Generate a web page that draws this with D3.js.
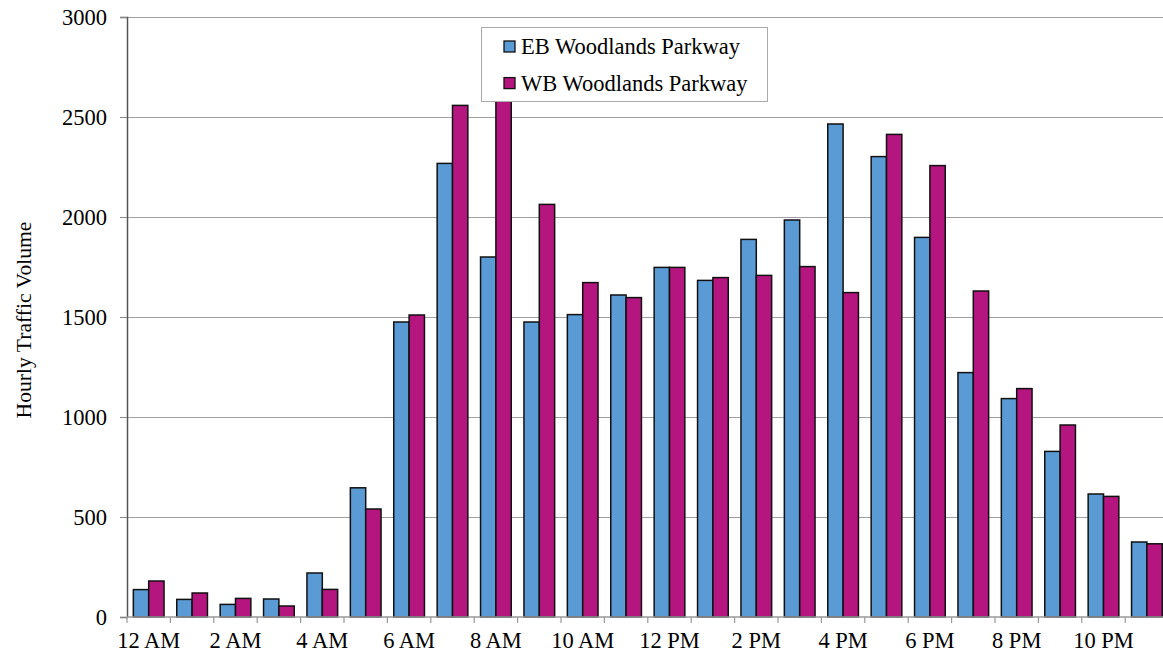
<!DOCTYPE html>
<html>
<head>
<meta charset="utf-8">
<script src="https://cdn.jsdelivr.net/npm/d3@7"></script>
<style>
  html, body { margin: 0; padding: 0; background: #fff; }
  svg { display: block; font-family: "Liberation Serif", "Times New Roman", serif; }
</style>
</head>
<body>
<svg id="chart"></svg>
<script>
const hours = ['12 AM', '1 AM', '2 AM', '3 AM', '4 AM', '5 AM', '6 AM', '7 AM', '8 AM', '9 AM', '10 AM', '11 AM',
               '12 PM', '1 PM', '2 PM', '3 PM', '4 PM', '5 PM', '6 PM', '7 PM', '8 PM', '9 PM', '10 PM', '11 PM'];
const seriesNames = ['EB Woodlands Parkway', 'WB Woodlands Parkway'];
const ebVolume = [137, 88, 63, 90, 220, 646, 1475, 2268, 1800, 1475, 1512, 1610,
                  1748, 1683, 1888, 1985, 2465, 2302, 1898, 1222, 1092, 828, 615, 375];
const wbVolume = [180, 120, 93, 55, 138, 540, 1510, 2558, 2660, 2063, 1672, 1597,
                  1748, 1697, 1708, 1752, 1622, 2413, 2257, 1630, 1142, 960, 603, 366];
const yTicks = [0, 500, 1000, 1500, 2000, 2500, 3000];
const colors = ['#5b9bd5', '#b5157f'];

const width = 1163, height = 656;
const plotLeft = 127, plotTop = 17, plotBottom = 617;
const step = 43.4;
const fontSize = '22.5px';

const svg = d3.select('#chart').attr('width', width).attr('height', height);

const x0 = d3.scaleBand()
  .domain(hours)
  .range([plotLeft, plotLeft + step * hours.length]);

const x1 = d3.scaleBand()
  .domain(seriesNames)
  .range([0, x0.bandwidth()])
  .paddingOuter(0.414);

const y = d3.scaleLinear().domain([0, 3000]).range([plotBottom, plotTop]);

// gridlines
svg.append('g')
  .selectAll('line')
  .data(yTicks.filter(d => d > 0))
  .enter()
  .append('line')
  .attr('x1', plotLeft)
  .attr('x2', width)
  .attr('y1', d => y(d) + 0.5)
  .attr('y2', d => y(d) + 0.5)
  .style('stroke', '#a0a0a0')
  .style('stroke-width', 1.2);

// bars
const rows = hours.map((h, i) => ({hour: h, values: [ebVolume[i], wbVolume[i]]}));

const groups = svg.append('g')
  .selectAll('g')
  .data(rows)
  .enter()
  .append('g')
  .attr('transform', d => `translate(${x0(d.hour)},0)`);

groups.selectAll('rect')
  .data(d => d.values.map((v, k) => ({name: seriesNames[k], value: v, k: k})))
  .enter()
  .append('rect')
  .attr('x', d => x1(d.name))
  .attr('y', d => y(d.value))
  .attr('width', x1.bandwidth())
  .attr('height', d => plotBottom - y(d.value))
  .style('fill', d => colors[d.k])
  .style('stroke', '#111')
  .style('stroke-width', 1.5);

// y axis
const yAxis = svg.append('g')
  .attr('transform', `translate(${plotLeft},0)`)
  .call(d3.axisLeft(y).tickValues(yTicks).tickSize(7).tickPadding(13).tickFormat(d3.format('d')));

yAxis.select('.domain').style('stroke', '#555').style('stroke-width', 1.5);
yAxis.selectAll('.tick line').style('stroke', '#888');
yAxis.selectAll('text')
  .style('font-size', fontSize)
  .style('font-family', '"Liberation Serif", serif')
  .style('fill', '#000');

// x axis
const xAxis = svg.append('g')
  .attr('transform', `translate(0,${plotBottom})`)
  .call(d3.axisBottom(x0).tickSize(0).tickPadding(15)
    .tickFormat((d, i) => i % 2 === 0 ? d : ''));

xAxis.select('.domain').remove();
xAxis.append('line')
  .attr('x1', plotLeft)
  .attr('x2', width)
  .style('stroke', '#999')
  .style('stroke-width', 1.5);
xAxis.selectAll('.tick text')
  .style('font-size', fontSize)
  .style('font-family', '"Liberation Serif", serif')
  .style('fill', '#000');

// category boundary ticks
xAxis.append('g')
  .selectAll('line')
  .data(hours.map((h, i) => i))
  .enter()
  .append('line')
  .attr('x1', i => plotLeft + i * x0.step())
  .attr('x2', i => plotLeft + i * x0.step())
  .attr('y1', 0)
  .attr('y2', 6)
  .style('stroke', '#999')
  .style('stroke-width', 1.2);

// y title
svg.append('text')
  .attr('transform', 'translate(31,320) rotate(-90)')
  .attr('text-anchor', 'middle')
  .style('font-size', '21.6px')
  .text('Hourly Traffic Volume');

// legend
const legend = svg.append('g').attr('transform', 'translate(481,27)');

legend.append('rect')
  .attr('x', 0.5)
  .attr('y', 0.5)
  .attr('width', 286)
  .attr('height', 74)
  .style('fill', '#fff')
  .style('stroke', '#aaa')
  .style('stroke-width', 1);

const entries = legend.selectAll('.entry')
  .data(seriesNames)
  .enter()
  .append('g')
  .attr('class', 'entry')
  .attr('transform', (d, i) => `translate(23,${19.5 + i * 36.6})`);

entries.append('rect')
  .attr('x', 0)
  .attr('y', -5.5)
  .attr('width', 11)
  .attr('height', 11)
  .style('fill', (d, i) => colors[i])
  .style('stroke', '#111')
  .style('stroke-width', 1.3);

entries.append('text')
  .attr('x', 17)
  .attr('y', 7.5)
  .style('font-size', fontSize)
  .text(d => d);
</script>
</body>
</html>
